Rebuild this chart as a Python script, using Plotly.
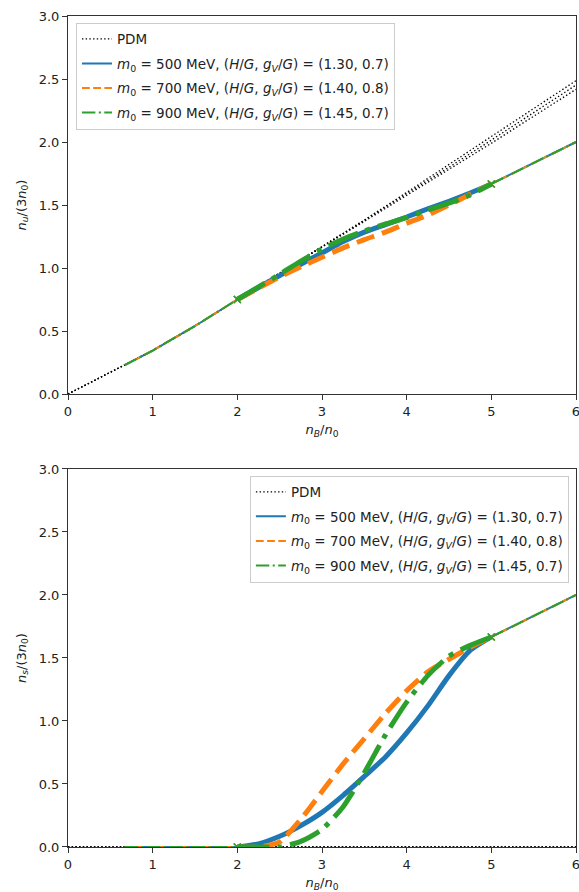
import plotly.graph_objects as go

# ---------------- data ----------------
# PDM (parity doublet model) curves, one per chiral-invariant mass m0
NB_PDM = [0.0, 0.5, 1.0, 1.5, 2.0, 2.5, 3.0, 3.5, 4.0, 4.5, 5.0, 5.5, 6.0]
NU_PDM_500 = [0.0, 0.17, 0.345, 0.54, 0.75, 0.955, 1.165, 1.38, 1.60, 1.82, 2.04, 2.265, 2.487]
NU_PDM_700 = [0.0, 0.17, 0.345, 0.54, 0.75, 0.955, 1.165, 1.375, 1.585, 1.80, 2.015, 2.235, 2.452]
NU_PDM_900 = [0.0, 0.17, 0.345, 0.54, 0.75, 0.955, 1.165, 1.37, 1.575, 1.78, 1.99, 2.205, 2.418]
NS_PDM = [0.0, 0.0, 0.0, 0.0, 0.0, 0.0, 0.0, 0.0, 0.0, 0.0, 0.0, 0.0, 0.0]

# hadronic branch (n_B < 2 n0)
NB_HAD = [0.67, 1.0, 1.5, 2.0]
NU_HAD = [0.23, 0.345, 0.54, 0.75]
NS_HAD = [0.0, 0.0, 0.0, 0.0]

# crossover (interpolated) branch, 2 n0 < n_B < 5 n0
NB_MIX = [2.0, 2.25, 2.5, 2.75, 3.0, 3.25, 3.5, 3.75, 4.0, 4.25, 4.5, 4.75, 5.0]
NU_MIX_500 = [0.75, 0.845, 0.94, 1.03, 1.12, 1.21, 1.285, 1.345, 1.405, 1.47, 1.53, 1.595, 1.667]
NU_MIX_700 = [0.75, 0.84, 0.93, 1.01, 1.085, 1.16, 1.225, 1.285, 1.355, 1.42, 1.50, 1.585, 1.667]
NU_MIX_900 = [0.75, 0.85, 0.95, 1.055, 1.15, 1.23, 1.295, 1.35, 1.40, 1.46, 1.515, 1.58, 1.667]
NS_MIX_500 = [0.0, 0.025, 0.085, 0.17, 0.275, 0.41, 0.56, 0.715, 0.905, 1.12, 1.36, 1.56, 1.667]
NS_MIX_700 = [0.0, 0.0, 0.04, 0.22, 0.44, 0.66, 0.86, 1.06, 1.24, 1.39, 1.49, 1.585, 1.667]
NS_MIX_900 = [0.0, 0.0, 0.0, 0.045, 0.14, 0.32, 0.59, 0.89, 1.15, 1.36, 1.515, 1.60, 1.667]

# quark-matter branch (n_B > 5 n0)
NB_QM = [5.0, 5.5, 6.0]
NU_QM = [1.667, 1.833, 2.0]
NS_QM = [1.667, 1.833, 2.0]

LABELS = [
    "<i>m</i><sub>0</sub> = 500 MeV, (<i>H</i>/<i>G</i>, <i>g<sub>V</sub></i>/<i>G</i>) = (1.30, 0.7)",
    "<i>m</i><sub>0</sub> = 700 MeV, (<i>H</i>/<i>G</i>, <i>g<sub>V</sub></i>/<i>G</i>) = (1.40, 0.8)",
    "<i>m</i><sub>0</sub> = 900 MeV, (<i>H</i>/<i>G</i>, <i>g<sub>V</sub></i>/<i>G</i>) = (1.45, 0.7)",
]
COLORS = ["#1f77b4", "#ff7f0e", "#2ca02c"]
DASH_THIN = ["solid", "7.8px,3.4px", "13.4px,3.4px,2.1px,3.4px"]
DASH_THICK = ["solid", "18.5px,8px", "32px,8px,5px,8px"]
DOT = "1.4px,2.3px"
W_THIN, W_THICK = 2.0, 5.0

FONT = "DejaVu Sans"
FS = 13
FS_LEG = 13.5

fig = go.Figure()


def add_panel(xa, ya, leg, pdm_sets, had, mix_sets, qm):
    # PDM reference curves
    for i, yv in enumerate(pdm_sets):
        fig.add_trace(go.Scatter(
            x=NB_PDM, y=yv, mode="lines", xaxis=xa, yaxis=ya,
            line=dict(color="black", width=1.3, dash=DOT),
            name="PDM", legend=leg, legendgroup=leg + "pdm",
            showlegend=(i == 0), hoverinfo="skip"))
    # each parameter set: hadronic, crossover, quark branches
    for k in range(3):
        grp = leg + str(k)
        fig.add_trace(go.Scatter(
            x=NB_HAD, y=had, mode="lines", xaxis=xa, yaxis=ya,
            line=dict(color=COLORS[k], width=W_THIN, dash=DASH_THIN[k]),
            name=LABELS[k], legend=leg, legendgroup=grp, showlegend=True))
        fig.add_trace(go.Scatter(
            x=NB_MIX, y=mix_sets[k], mode="lines", xaxis=xa, yaxis=ya,
            line=dict(color=COLORS[k], width=W_THICK, dash=DASH_THICK[k],
                      shape="spline", smoothing=0.6),
            name=LABELS[k], legend=leg, legendgroup=grp, showlegend=False))
        fig.add_trace(go.Scatter(
            x=[NB_MIX[0], NB_MIX[-1]], y=[mix_sets[k][0], mix_sets[k][-1]],
            mode="markers", xaxis=xa, yaxis=ya,
            marker=dict(symbol="x-thin", size=7,
                        line=dict(color=COLORS[k], width=1.3)),
            name=LABELS[k], legend=leg, legendgroup=grp, showlegend=False))
        fig.add_trace(go.Scatter(
            x=NB_QM, y=qm, mode="lines", xaxis=xa, yaxis=ya,
            line=dict(color=COLORS[k], width=W_THIN, dash=DASH_THIN[k]),
            name=LABELS[k], legend=leg, legendgroup=grp, showlegend=False))


add_panel("x", "y", "legend", [NU_PDM_500, NU_PDM_700, NU_PDM_900],
          NU_HAD, [NU_MIX_500, NU_MIX_700, NU_MIX_900], NU_QM)
add_panel("x2", "y2", "legend2", [NS_PDM, NS_PDM, NS_PDM],
          NS_HAD, [NS_MIX_500, NS_MIX_700, NS_MIX_900], NS_QM)

axis_common = dict(
    showline=True, mirror=True, linecolor="#333333", linewidth=1,
    ticks="outside", ticklen=5, tickwidth=1, tickcolor="#333333",
    showgrid=False, zeroline=False, ticklabeloverflow="allow", automargin=False,
    tickfont=dict(family=FONT, size=FS, color="#222222"),
)
xa = dict(axis_common, range=[0, 6], dtick=1, tick0=0,
          title=dict(text="<i>n<sub>B</sub></i>/<i>n</i><sub>0</sub>",
                     font=dict(family=FONT, size=FS, color="#222222"), standoff=7))
ya_u = dict(axis_common, range=[0, 3], dtick=0.5, tick0=0, tickformat=".1f",
            title=dict(text="<i>n<sub>u</sub></i>/(3<i>n</i><sub>0</sub>)",
                       font=dict(family=FONT, size=FS, color="#222222"), standoff=9))
ya_s = dict(axis_common, range=[0, 3], dtick=0.5, tick0=0, tickformat=".1f",
            title=dict(text="<i>n<sub>s</sub></i>/(3<i>n</i><sub>0</sub>)",
                       font=dict(family=FONT, size=FS, color="#222222"), standoff=9))

legend_common = dict(
    bgcolor="rgba(255,255,255,0.85)", bordercolor="#cccccc", borderwidth=1,
    font=dict(family=FONT, size=FS_LEG, color="#222222"),
    tracegroupgap=4, itemwidth=30,
)

fig.update_layout(
    width=579, height=892,
    margin=dict(l=68, r=3, t=16, b=45, autoexpand=False),
    paper_bgcolor="white", plot_bgcolor="white",
    font=dict(family=FONT, size=FS, color="#222222"),
    xaxis=dict(xa, domain=[0, 1], anchor="y"),
    yaxis=dict(ya_u, domain=[0.5451, 1.0], anchor="x"),
    xaxis2=dict(xa, domain=[0, 1], anchor="y2"),
    yaxis2=dict(ya_s, domain=[0.0, 0.4549], anchor="x2"),
    legend=dict(legend_common, x=0.0157, y=0.992, xanchor="left", yanchor="top"),
    legend2=dict(legend_common, x=0.986, y=0.447, xanchor="right", yanchor="top"),
    showlegend=True,
)

fig.write_html("out.html")
